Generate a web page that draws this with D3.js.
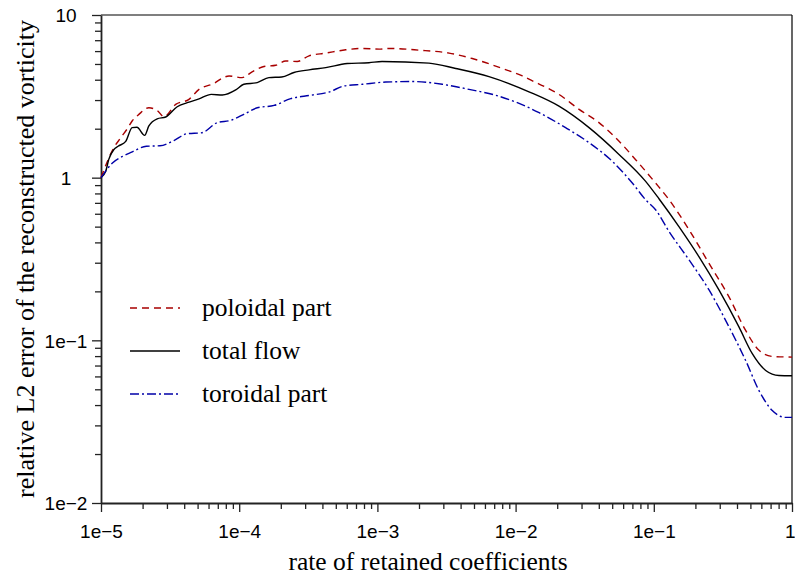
<!DOCTYPE html>
<html>
<head>
<meta charset="utf-8">
<script src="https://cdn.jsdelivr.net/npm/d3@7"></script>
<style>
  html, body { margin: 0; padding: 0; background: #fff; }
  svg { display: block; }
</style>
</head>
<body>
<svg id="chart" width="795" height="581"></svg>
<script>
// ---- data ----
const xTickValues = [1e-5, 1e-4, 1e-3, 1e-2, 1e-1, 1];
const xTickLabels = ["1e\u22125", "1e\u22124", "1e\u22123", "1e\u22122", "1e\u22121", "1"];
const yTickValues = [10, 1, 0.1, 0.01];
const yTickLabels = ["10", "1", "1e\u22121", "1e\u22122"];

const totalX = [1e-5, 1.08e-5, 1.14e-5, 1.24e-5, 1.33e-5, 1.51e-5, 1.68e-5, 1.82e-5, 2.07e-5, 2.22e-5, 2.55e-5, 2.94e-5, 3.56e-5, 4.21e-5, 5.12e-5, 6.28e-5, 7.55e-5, 9.44e-5, 1.08e-4, 1.35e-4, 1.64e-4, 2.03e-4, 2.49e-4, 3.20e-4, 4.23e-4, 6.05e-4, 8.69e-4, 1.08e-3, 2.36e-3, 3.69e-3, 6.42e-3, 1.25e-2, 2.06e-2, 3.40e-2, 5.60e-2, 8.73e-2, 1.09e-1, 1.52e-1, 2.12e-1, 2.96e-1, 4.13e-1, 5.16e-1, 6.45e-1, 8.05e-1, 1];
const totalY = [1, 1.09, 1.30, 1.49, 1.56, 1.67, 2.03, 2.04, 1.82, 2.08, 2.30, 2.36, 2.73, 2.89, 3.05, 3.25, 3.22, 3.46, 3.75, 3.84, 4.12, 4.16, 4.43, 4.60, 4.75, 5.03, 5.09, 5.18, 5.06, 4.69, 4.18, 3.37, 2.75, 2.03, 1.39, 0.949, 0.742, 0.50, 0.327, 0.204, 0.121, 0.0828, 0.0653, 0.0608, 0.0606];

const poloidalX = [1e-5, 1.24e-5, 1.39e-5, 1.55e-5, 1.68e-5, 1.88e-5, 2.22e-5, 2.55e-5, 2.86e-5, 3.47e-5, 4.33e-5, 5.12e-5, 6.57e-5, 7.76e-5, 8.44e-5, 1.05e-4, 1.24e-4, 1.51e-4, 1.84e-4, 2.17e-4, 2.63e-4, 3.20e-4, 4.23e-4, 5.90e-4, 7.78e-4, 1.03e-3, 1.21e-3, 2.00e-3, 3.30e-3, 4.86e-3, 8.02e-3, 1.12e-2, 1.25e-2, 2.06e-2, 2.88e-2, 4.01e-2, 5.30e-2, 7.39e-2, 1.03e-1, 1.29e-1, 1.80e-1, 2.51e-1, 3.50e-1, 4.62e-1, 5.77e-1, 7.20e-1, 1];
const poloidalY = [1, 1.53, 1.76, 2.00, 2.23, 2.45, 2.69, 2.59, 2.37, 2.82, 3.03, 3.49, 3.80, 4.14, 4.22, 4.12, 4.47, 4.82, 4.91, 5.22, 5.18, 5.61, 5.83, 6.11, 6.23, 6.17, 6.23, 6.08, 5.83, 5.40, 4.69, 4.22, 4.03, 3.25, 2.63, 2.18, 1.76, 1.29, 0.927, 0.731, 0.478, 0.297, 0.185, 0.115, 0.0868, 0.0796, 0.0789];

const toroidalX = [1e-5, 1.21e-5, 1.43e-5, 1.65e-5, 2.13e-5, 2.67e-5, 3.37e-5, 4.16e-5, 5.38e-5, 6.94e-5, 8.68e-5, 1.08e-4, 1.35e-4, 1.79e-4, 2.36e-4, 3.29e-4, 4.46e-4, 5.73e-4, 7.78e-4, 1.15e-3, 1.79e-3, 2.95e-3, 4.60e-3, 7.18e-3, 1.06e-2, 1.48e-2, 2.30e-2, 3.40e-2, 5.01e-2, 6.99e-2, 8.73e-2, 1.03e-1, 1.29e-1, 1.80e-1, 2.51e-1, 3.50e-1, 4.62e-1, 5.77e-1, 7.20e-1, 9.0e-1, 1];
const toroidalY = [1, 1.23, 1.35, 1.43, 1.56, 1.57, 1.69, 1.86, 1.89, 2.18, 2.25, 2.45, 2.69, 2.78, 3.06, 3.21, 3.36, 3.66, 3.75, 3.87, 3.90, 3.75, 3.49, 3.21, 2.86, 2.51, 2.03, 1.64, 1.26, 0.927, 0.731, 0.635, 0.466, 0.312, 0.204, 0.121, 0.0752, 0.0491, 0.037, 0.0336, 0.0336];

const seriesNames = ["poloidal part", "total flow", "toroidal part"];
const seriesColors = ["#a80000", "#000000", "#0000a8"];
const seriesDash = ["7,5", null, "9,3,2,3"];

const xLabel = "rate of retained coefficients";
const yLabel = "relative L2 error of the reconstructed vorticity";

// ---- layout ----
const svg = d3.select("#chart");
const pLeft = 101, pRight = 792, pTop = 15, pBottom = 503;
const serif = "'Liberation Serif', 'Times New Roman', serif";
const sans = "'Liberation Sans', Arial, sans-serif";

const x = d3.scaleLog().domain([1e-5, 1]).range([pLeft, pRight]);
const y = d3.scaleLog().domain([0.01, 10]).range([pBottom, pTop]);

// frame (top and right)
svg.append("line").attr("x1", pLeft).attr("x2", pRight).attr("y1", pTop).attr("y2", pTop)
  .attr("stroke", "#000").attr("stroke-width", 1.2);
svg.append("line").attr("x1", pRight).attr("x2", pRight).attr("y1", pTop).attr("y2", pBottom)
  .attr("stroke", "#000").attr("stroke-width", 1.2);

// minor ticks
const minorX = [];
for (let e = -5; e < 0; e++) for (let m = 2; m <= 9; m++) minorX.push(m * Math.pow(10, e));
const minorY = [];
for (let e = -2; e < 1; e++) for (let m = 2; m <= 9; m++) minorY.push(m * Math.pow(10, e));

const xMinorAxis = d3.axisBottom(x).tickValues(minorX).tickSize(6).tickFormat("");
const yMinorAxis = d3.axisLeft(y).tickValues(minorY).tickSize(6).tickFormat("");
svg.append("g").attr("transform", `translate(0,${pBottom})`).call(xMinorAxis)
  .call(g => g.select(".domain").remove());
svg.append("g").attr("transform", `translate(${pLeft},0)`).call(yMinorAxis)
  .call(g => g.select(".domain").remove());

// major axes
const xAxis = d3.axisBottom(x).tickValues(xTickValues)
  .tickFormat((d, i) => xTickLabels[i]).tickSize(9).tickPadding(13).tickSizeOuter(0);
const yAxis = d3.axisLeft(y).tickValues(yTickValues)
  .tickFormat((d, i) => yTickLabels[i]).tickSize(9).tickPadding(5).tickSizeOuter(0);

const gx = svg.append("g").attr("transform", `translate(0,${pBottom})`).call(xAxis);
const gy = svg.append("g").attr("transform", `translate(${pLeft},0)`).call(yAxis);
svg.selectAll("g line").attr("stroke", "#222").attr("stroke-width", 1.3);
[gx, gy].forEach(g => {
  g.selectAll("text").attr("font-family", sans)
    .attr("font-size", 19).attr("fill", "#000");
  g.select(".domain").attr("stroke", "#222").attr("stroke-width", 1.8);
});
gy.selectAll("text").attr("dy", "0.36em").attr("x", -35).attr("text-anchor", "middle");
gx.selectAll(".tick").filter(d => d === 1).select("text")
  .attr("text-anchor", "end").attr("x", 3);

// axis titles
svg.append("text").attr("x", 428).attr("y", 570)
  .attr("text-anchor", "middle")
  .attr("font-family", serif)
  .attr("font-size", 25.5).text(xLabel);
svg.append("text")
  .attr("transform", `translate(34,${(pTop + pBottom) / 2}) rotate(-90)`)
  .attr("text-anchor", "middle")
  .attr("font-family", serif)
  .attr("font-size", 26).text(yLabel);

// lines
const line = d3.line().x(d => x(d[0])).y(d => y(d[1])).curve(d3.curveMonotoneX);
const seriesData = [
  d3.zip(poloidalX, poloidalY),
  d3.zip(totalX, totalY),
  d3.zip(toroidalX, toroidalY)
];
const plot = svg.append("g");
seriesData.forEach((data, i) => {
  plot.append("path").datum(data).attr("d", line)
    .attr("fill", "none").attr("stroke", seriesColors[i])
    .attr("stroke-width", 1.4)
    .attr("stroke-dasharray", seriesDash[i]);
});

// legend
const legendY = [308, 351, 394];
seriesNames.forEach((name, i) => {
  svg.append("line").attr("x1", 130).attr("x2", 180)
    .attr("y1", legendY[i]).attr("y2", legendY[i])
    .attr("stroke", seriesColors[i]).attr("stroke-width", 1.4)
    .attr("stroke-dasharray", seriesDash[i]);
  svg.append("text").attr("x", 202).attr("y", legendY[i] + 8)
    .attr("font-family", serif)
    .attr("font-size", 25.5).text(name);
});
</script>
</body>
</html>
